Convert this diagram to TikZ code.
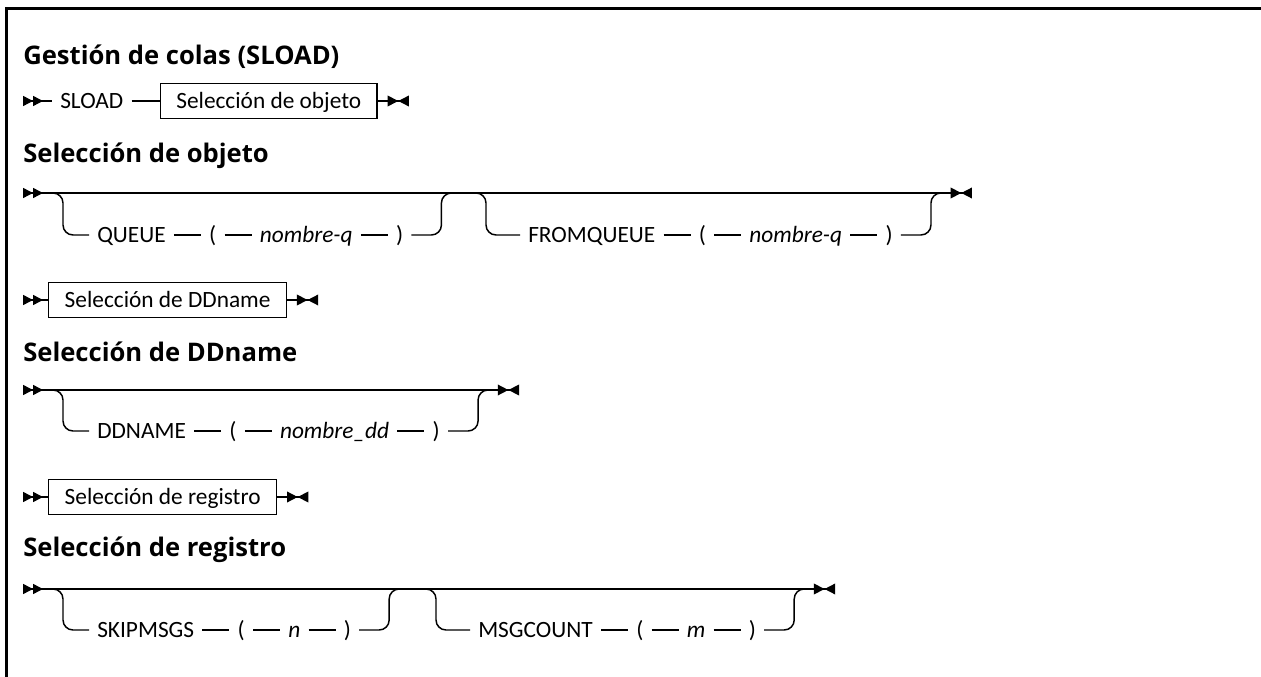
\documentclass[tikz,border=0pt]{standalone}
\usepackage{fontspec}
\setmainfont{Carlito}
\newfontfamily\headfont{Open Sans}
\usepackage{tikz}
\usetikzlibrary{arrows.meta, positioning, calc}
\newcommand{\syn}{\fontsize{17.5}{21}\selectfont}
\newcommand{\hdg}{\headfont\bfseries\fontsize{19.2}{23}\selectfont}

\begin{document}
\begin{tikzpicture}[x=0.75pt, y=-0.75pt,
    node distance=20.25pt,
    rail/.style={line width=1.1pt, rounded corners=7.5pt},
    kw/.style={inner xsep=6pt, inner ysep=0pt, text height=11.3pt, text depth=0pt, font=\syn},
    arg/.style={kw, font=\syn\itshape},
    subbox/.style={draw, line width=1.1pt, fill=white, inner xsep=12pt, minimum height=26.5pt,
                   text height=11.3pt, text depth=0pt, font=\syn},
    heading/.style={anchor=base west, inner sep=0pt, font=\hdg},
    begrail/.style={rail, {Triangle[reversed,length=7.5pt,width=7.5pt,sep=0pt]Triangle[reversed,length=7.5pt,width=7.5pt,sep=0pt]}-},
    endrail/.style={rail, -{Triangle[length=8pt,width=8pt,sep=0pt]Triangle[reversed,length=8pt,width=8pt,sep=0pt]}},
    fullrail/.style={rail, {Triangle[reversed,length=7.5pt,width=7.5pt,sep=0pt]Triangle[reversed,length=7.5pt,width=7.5pt,sep=0pt]}-{Triangle[length=8pt,width=8pt,sep=0pt]Triangle[reversed,length=8pt,width=8pt,sep=0pt]}}
]
\useasboundingbox (0,0) rectangle (1261,677);
\draw[line width=2.2pt] (6.5,677) -- (6.5,8.5) -- (1261,8.5);

\node[heading] (t1) at (23,65) {Gestión de colas (SLOAD)};

% SLOAD
\coordinate (s1) at (23,101);
\node[kw, anchor=west] (sload) at (52,101) {SLOAD};
\node[subbox, right=21pt of sload] (objref) {Selección de objeto};
\coordinate (e1) at ($(objref.east)+(31,0)$);
\draw[begrail] (s1) -- (sload);
\draw[rail] (sload) -- (objref);
\draw[endrail] (objref) -- (e1);

\node[heading] (t2) at (23,163) {Selección de objeto};

\coordinate (s2) at (23,193);
\coordinate (b2a) at (53,193);
\node[kw, anchor=west] (qkw) at (89,235) {QUEUE};
\node[kw, right=of qkw] (qlp) {(};
\node[arg, right=of qlp] (qname) {nombre-q};
\node[kw, right=of qname] (qrp) {)};
\node[kw, anchor=west] (fkw) at (520,235) {FROMQUEUE};
\node[kw, right=of fkw] (flp) {(};
\node[arg, right=of flp] (fname) {nombre-q};
\node[kw, right=of fname] (frp) {)};
\coordinate (b2b) at ($(fkw.west |- s2)+(-44,0)$);
\coordinate (e2) at ($(frp.east |- s2)+(71,0)$);
\draw[fullrail] (s2) -- (e2);
\draw[rail] (b2a) -| ($(qkw.west)+(-26,0)$) -- (qkw);
\draw[rail] (qkw) -- (qlp) -- (qname) -- (qrp);
\draw[rail] (qrp.east) -| ($(qrp.east |- s2)+(30,0)$) -- ++(12,0);
\draw[rail] (b2b) -| ($(fkw.west)+(-34,0)$) -- (fkw);
\draw[rail] (fkw) -- (flp) -- (fname) -- (frp);
\draw[rail] (frp.east) -| ($(frp.east |- s2)+(30,0)$) -- ++(12,0);

% DDname
\coordinate (s3) at (23,300);
\node[subbox, anchor=west] (ddref) at (48,300) {Selección de DDname};
\coordinate (e3) at ($(ddref.east)+(31,0)$);
\draw[begrail] (s3) -- (ddref);
\draw[endrail] (ddref) -- (e3);

\node[heading] (t3) at (23,362) {Selección de DDname};

\coordinate (s4) at (23,390);
\coordinate (b4a) at (53,390);
\node[kw, anchor=west] (dkw) at (89,431) {DDNAME};
\node[kw, right=of dkw] (dlp) {(};
\node[arg, right=of dlp] (dname) {nombre\_dd};
\node[kw, right=of dname] (drp) {)};
\coordinate (e4) at ($(drp.east |- s4)+(71,0)$);
\draw[fullrail] (s4) -- (e4);
\draw[rail] (b4a) -| ($(dkw.west)+(-26,0)$) -- (dkw);
\draw[rail] (dkw) -- (dlp) -- (dname) -- (drp);
\draw[rail] (drp.east) -| ($(drp.east |- s4)+(30,0)$) -- ++(12,0);

% registro
\coordinate (s5) at (23,497);
\node[subbox, anchor=west] (regref) at (48,497) {Selección de registro};
\coordinate (e5) at ($(regref.east)+(31,0)$);
\draw[begrail] (s5) -- (regref);
\draw[endrail] (regref) -- (e5);

\node[heading] (t5) at (23,556) {Selección de registro};

\coordinate (s6) at (23,589);
\coordinate (b6a) at (53,589);
\node[kw, anchor=west] (skw) at (89,630) {SKIPMSGS};
\node[kw, right=of skw] (slp) {(};
\node[arg, right=of slp] (sn) {n};
\node[kw, right=of sn] (srp) {)};
\node[kw, anchor=west] (mkw) at (470,630) {MSGCOUNT};
\node[kw, right=of mkw] (mlp) {(};
\node[arg, right=of mlp] (mm) {m};
\node[kw, right=of mm] (mrp) {)};
\coordinate (b6b) at ($(mkw.west |- s6)+(-44,0)$);
\coordinate (e6) at ($(mrp.east |- s6)+(71,0)$);
\draw[fullrail] (s6) -- (e6);
\draw[rail] (b6a) -| ($(skw.west)+(-26,0)$) -- (skw);
\draw[rail] (skw) -- (slp) -- (sn) -- (srp);
\draw[rail] (srp.east) -| ($(srp.east |- s6)+(30,0)$) -- ++(12,0);
\draw[rail] (b6b) -| ($(mkw.west)+(-34,0)$) -- (mkw);
\draw[rail] (mkw) -- (mlp) -- (mm) -- (mrp);
\draw[rail] (mrp.east) -| ($(mrp.east |- s6)+(30,0)$) -- ++(12,0);
\end{tikzpicture}
\end{document}
